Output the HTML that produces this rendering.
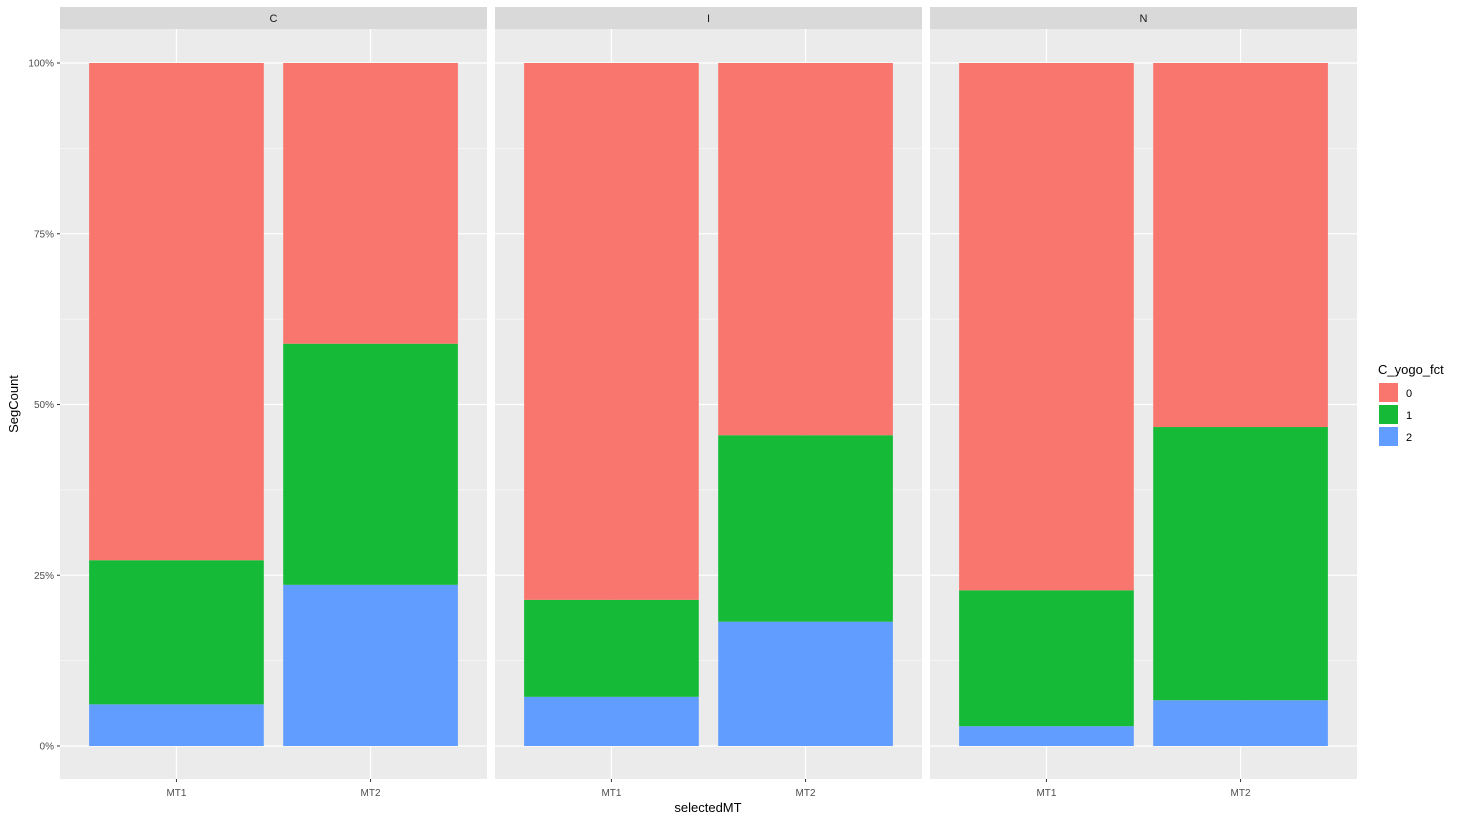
<!DOCTYPE html>
<html><head><meta charset="utf-8"><style>
body{margin:0;background:#fff;font-family:"Liberation Sans",Arial,sans-serif}
svg text{font-family:"Liberation Sans",Arial,sans-serif}
</style></head><body>
<svg id="chart" width="1460" height="822"></svg>
<script>
const panels = ["C","I","N"];
const categories = ["MT1","MT2"];
// percent values per panel, per category
const blueVals = [[6.1,23.6],[7.2,18.2],[2.9,6.7]];      // level 2
const greenVals = [[21.1,35.3],[14.2,27.3],[19.9,40.0]]; // level 1
const levels = ["0","1","2"];
const colors = {"0":"#F8766D","1":"#15BA37","2":"#619CFF"};
const yTicks = [0,25,50,75,100];
const yTickLabels = ["0%","25%","50%","75%","100%"];

const NS="http://www.w3.org/2000/svg";
const svg=document.getElementById('chart');
function mk(tag,attrs,parent){const e=document.createElementNS(NS,tag);for(const k in attrs)e.setAttribute(k,attrs[k]);(parent||svg).appendChild(e);return e;}
const panelX=[60,495,930], panelW=427, plotTop=29, plotBottom=779;
const y=v=>746-v*6.83;
const xc=(p,i)=>panelX[p]+panelW*(0.6+i)/2.2;
const bw=panelW*0.9/2.2;

panels.forEach((name,p)=>{
  const g=mk('g',{});
  
  
  const bg=mk('rect',{x:panelX[p],y:plotTop,width:panelW,height:plotBottom-plotTop,fill:'#EBEBEB'},g);
  
  
  for(let i=0;i<yTicks.length-1;i++){
    const m=(yTicks[i]+yTicks[i+1])/2;
    mk('line',{x1:panelX[p],x2:panelX[p]+panelW,y1:y(m),y2:y(m),stroke:'#fff','stroke-width':0.6},g);
  }
  yTicks.forEach(t=>mk('line',{x1:panelX[p],x2:panelX[p]+panelW,y1:y(t),y2:y(t),stroke:'#fff','stroke-width':1.2},g));
  categories.forEach((c,i)=>mk('line',{x1:xc(p,i),x2:xc(p,i),y1:plotTop,y2:plotBottom,stroke:'#fff','stroke-width':1.2},g));
  const st=mk('rect',{x:panelX[p],y:7,width:panelW,height:22,fill:'#D9D9D9'},g);
  
  
  const stt=mk('text',{x:panelX[p]+panelW/2,y:22,'text-anchor':'middle','font-size':11,fill:'#1a1a1a'},g);
  stt.textContent=name;
  
  
  categories.forEach((c,i)=>{
    const b=blueVals[p][i], gr=greenVals[p][i];
    const segs=[[0,b,'2'],[b,b+gr,'1'],[b+gr,100,'0']];
    segs.forEach(s=>{
      const r=mk('rect',{x:xc(p,i)-bw/2,y:y(s[1]),width:bw,height:y(s[0])-y(s[1]),fill:colors[s[2]]},g);
      
      
    });
    mk('line',{x1:xc(p,i),x2:xc(p,i),y1:plotBottom,y2:plotBottom+3,stroke:'#333'},g);
    const tl=mk('text',{x:xc(p,i),y:796,'text-anchor':'middle','font-size':10,fill:'#4D4D4D'},g);
    tl.textContent=c;
    
    
  });
});
yTicks.forEach((t,i)=>{
  mk('line',{x1:57,x2:60,y1:y(t),y2:y(t),stroke:'#333'});
  const tl=mk('text',{x:54,y:y(t)+3.5,'text-anchor':'end','font-size':10,fill:'#4D4D4D'});
  tl.textContent=yTickLabels[i];
  
  
});
const yt=mk('text',{x:0,y:0,'text-anchor':'middle','font-size':13,fill:'#000',transform:'translate(18,404) rotate(-90)'});
yt.textContent='SegCount';


const xt=mk('text',{x:708,y:812,'text-anchor':'middle','font-size':13,fill:'#000'});
xt.textContent='selectedMT';


const lg=mk('g',{});


const lt=mk('text',{x:1378,y:374,'font-size':13,fill:'#000'},lg);
lt.textContent='C_yogo_fct';


levels.forEach((l,i)=>{
  const k=mk('rect',{x:1379,y:383+i*22,width:19,height:19,fill:colors[l]},lg);
  
  
  const t=mk('text',{x:1406,y:397+i*22,'font-size':11,fill:'#000'},lg);
  t.textContent=l;
  
  
});
</script>
</body></html>
